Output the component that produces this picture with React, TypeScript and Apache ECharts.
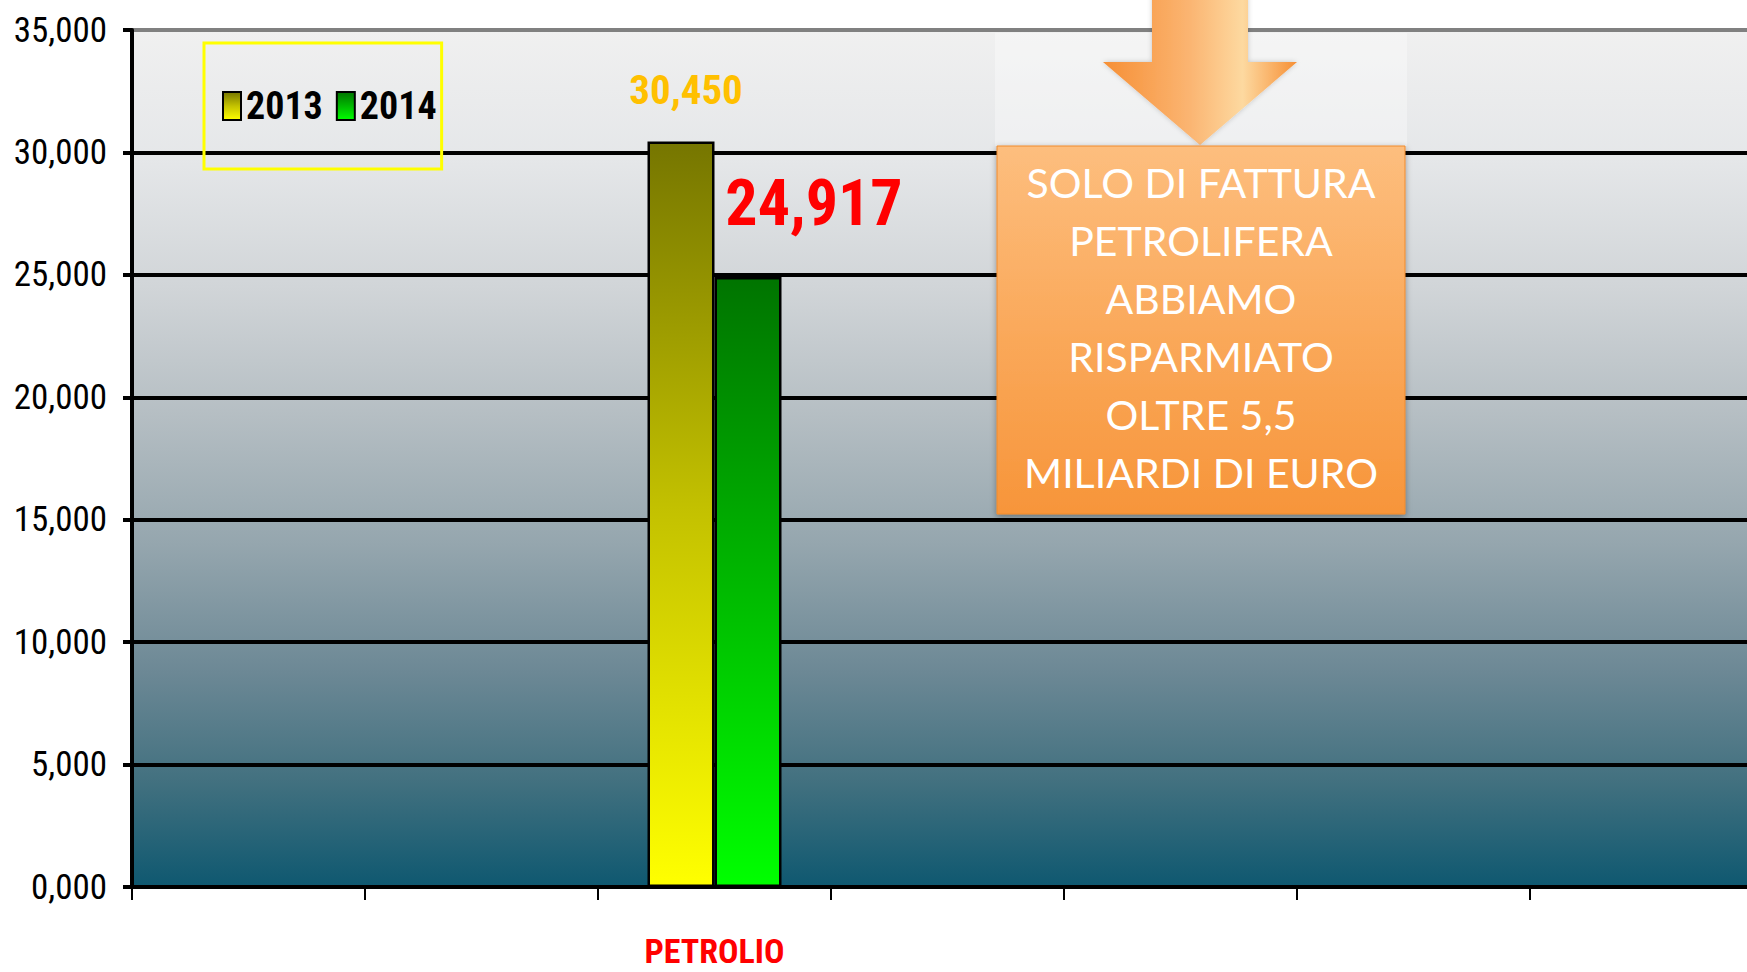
import React, { useEffect, useRef } from "react";
import * as echarts from "echarts";

const categories = ["", "", "PETROLIO", "", "", "", ""];
const seriesNames = ["2013", "2014"];
const values2013 = [null, null, 30.45, null, null, null, null];
const values2014 = [null, null, 24.917, null, null, null, null];
const yTicks = { min: 0, max: 35, interval: 5 };
const noteLines = [
  "SOLO DI FATTURA",
  "PETROLIFERA",
  "ABBIAMO",
  "RISPARMIATO",
  "OLTRE 5,5",
  "MILIARDI DI EURO",
];

const NARROW = "'Roboto Condensed', 'Liberation Sans Narrow', 'DejaVu Sans Condensed', 'Liberation Sans', sans-serif";

const fmt = (v: number) => v.toFixed(3).replace(".", ",");

export default function App() {
  const ref = useRef<HTMLDivElement>(null);
  useEffect(() => {
    if (!ref.current) return;
    const chart = echarts.init(ref.current, null, { renderer: "svg" });
    const grad2013 = new echarts.graphic.LinearGradient(0, 0, 0, 1, [
      { offset: 0, color: "#767600" },
      { offset: 0.5, color: "#c4c200" },
      { offset: 1, color: "#ffff00" },
    ]);
    const grad2014 = new echarts.graphic.LinearGradient(0, 0, 0, 1, [
      { offset: 0, color: "#007400" },
      { offset: 0.5, color: "#00b800" },
      { offset: 1, color: "#00ff00" },
    ]);
    const bg = new echarts.graphic.LinearGradient(0, 0, 0, 1, [
      { offset: 0, color: "#f0f0f0" },
      { offset: 0.15, color: "#e5e7e9" },
      { offset: 0.3, color: "#d1d5d8" },
      { offset: 0.45, color: "#b5bec3" },
      { offset: 0.6, color: "#95a6ae" },
      { offset: 0.75, color: "#6c8895" },
      { offset: 0.88, color: "#41707f" },
      { offset: 1, color: "#0e5870" },
    ]);
    const arrowGrad = new echarts.graphic.LinearGradient(
      1103, 0, 1297, 0,
      [
        { offset: 0, color: "#f68f35" },
        { offset: 0.45, color: "#fbb572" },
        { offset: 0.72, color: "#fdd9a0" },
        { offset: 1, color: "#f68f35" },
      ],
      true
    );
    const boxGrad = new echarts.graphic.LinearGradient(0, 0, 0, 1, [
      { offset: 0, color: "#fdbe7e" },
      { offset: 0.5, color: "#faa95b" },
      { offset: 1, color: "#f7953a" },
    ]);
    chart.setOption({
      animation: false,
      grid: {
        left: 132,
        top: 30,
        right: -16,
        bottom: 85,
        outerBoundsMode: "none",
        containLabel: false,
        show: true,
        backgroundColor: bg,
        borderWidth: 0,
      },
      legend: {
        data: seriesNames,
        left: 204,
        top: 43,
        orient: "horizontal",
        icon: "rect",
        itemWidth: 18,
        itemHeight: 28,
        itemGap: 13,
        padding: [44, 5, 44, 18],
        borderColor: "#ffff00",
        borderWidth: 3,
        textStyle: {
          fontFamily: NARROW,
          fontWeight: "bold",
          fontSize: 38,
          color: "#000",
        },
      },
      xAxis: {
        type: "category",
        data: categories,
        axisLine: { show: true, lineStyle: { color: "#000", width: 4 } },
        axisTick: { show: true, length: 13, lineStyle: { color: "#000", width: 2 } },
        splitLine: { show: false },
        axisLabel: {
          color: "#ff0000",
          fontFamily: NARROW,
          fontWeight: "bold",
          fontSize: 34,
          margin: 47,
          interval: 0,
        },
      },
      yAxis: {
        type: "value",
        min: yTicks.min,
        max: yTicks.max,
        interval: yTicks.interval,
        axisLine: { show: true, lineStyle: { color: "#000", width: 4 } },
        axisTick: { show: true, length: 9, lineStyle: { color: "#000", width: 4 } },
        splitLine: {
          show: true,
          lineStyle: {
            color: ["#000", "#000", "#000", "#000", "#000", "#000", "#000", "#808080"],
            width: 4,
          },
        },
        axisLabel: {
          formatter: (v: number) => fmt(v),
          color: "#000",
          fontFamily: NARROW,
          fontSize: 35,
          margin: 25,
        },
      },
      series: [
        {
          name: seriesNames[0],
          type: "bar",
          data: values2013,
          barWidth: 67,
          barGap: "0%",
          itemStyle: { color: grad2013, borderColor: "#000", borderWidth: 2.5 },
          label: {
            show: true,
            position: "top",
            distance: 31,
            offset: [5, 0],
            formatter: (p: any) => fmt(p.value),
            color: "#ffc000",
            fontFamily: NARROW,
            fontWeight: "bold",
            fontSize: 41,
          },
        },
        {
          name: seriesNames[1],
          type: "bar",
          data: values2014,
          barWidth: 67,
          barGap: "0%",
          itemStyle: { color: grad2014, borderColor: "#000", borderWidth: 2.5 },
          label: {
            show: true,
            position: "top",
            distance: 41,
            offset: [66, 0],
            formatter: (p: any) => fmt(p.value),
            color: "#ff0000",
            fontFamily: NARROW,
            fontWeight: "bold",
            fontSize: 64,
          },
        },
      ],
      graphic: [
        {
          type: "rect",
          z: 99,
          shape: { x: 995, y: 33, width: 412, height: 113 },
          style: { fill: "rgba(255,255,255,0.35)" },
        },
        {
          type: "polygon",
          z: 100,
          shape: {
            points: [
              [1152, -5],
              [1248, -5],
              [1248, 62],
              [1297, 62],
              [1200, 145],
              [1103, 62],
              [1152, 62],
            ],
          },
          style: { fill: arrowGrad, shadowBlur: 5, shadowColor: "rgba(0,0,0,0.2)" },
        },
        {
          type: "rect",
          z: 100,
          shape: { x: 997, y: 146, width: 408, height: 368 },
          style: {
            fill: boxGrad,
            stroke: "#f08a2c",
            lineWidth: 1,
            shadowBlur: 6,
            shadowOffsetY: 2,
            shadowColor: "rgba(0,0,0,0.35)",
          },
        },
        {
          type: "text",
          z: 101,
          x: 1201,
          y: 327,
          style: {
            text: noteLines.join("\n"),
            fill: "#ffffff",
            fontFamily: "Lato, 'Open Sans', sans-serif",
            fontSize: 41,
            lineHeight: 58,
            align: "center",
            verticalAlign: "middle",
          },
        },
      ],
    });
    return () => chart.dispose();
  }, []);
  return (
    <div
      ref={ref}
      style={{ position: "absolute", left: 0, top: 0, width: 1747, height: 972 }}
    />
  );
}
